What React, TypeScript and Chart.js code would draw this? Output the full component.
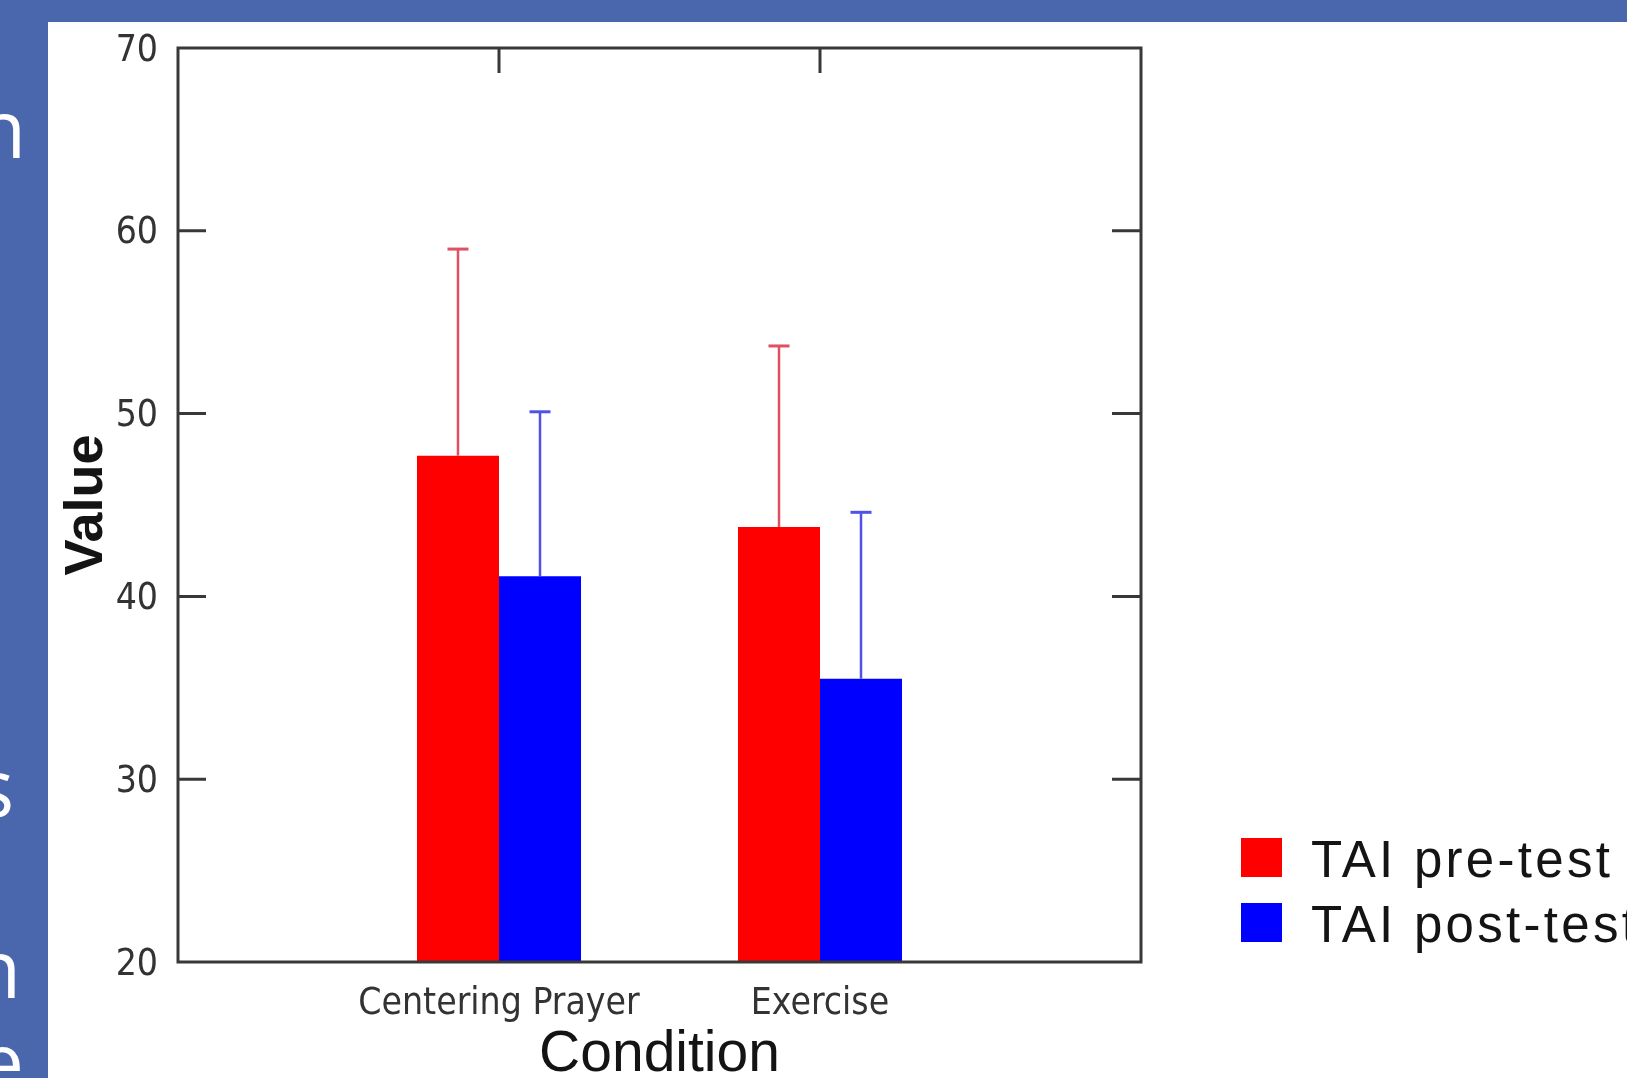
import React, { useEffect, useRef } from 'react';
import { Chart, registerables } from 'chart.js';

Chart.register(...registerables);

// ---- data ----
const categories = ['', 'Centering Prayer', 'Exercise', ''];
const seriesLabels = ['TAI pre-test', 'TAI post-test'];
const preTest = [null, 47.7, 43.8, null];
const postTest = [null, 41.1, 35.5, null];
const preErr = [null, 11.3, 9.9, null];
const postErr = [null, 9.0, 9.1, null];
const yTicks = [20, 30, 40, 50, 60, 70];
const xTitle = 'Condition';
const yTitle = 'Value';
const sideLetters = ['n', 's', 'n', 'e'];

// ---- styles / layout ----
const W = 1627;
const H = 1078;
const BLUE = '#4A67AD';
const FRAME = '#383838';
const TEXT = '#333333';
const RED = '#FF0000';
const BLUE_BAR = '#0000FF';
const ERR_COLORS = ['rgb(222,80,98)', 'rgb(80,80,235)'];
const NARROW = "'Liberation Sans Narrow', 'Arial Narrow', 'DejaVu Sans Condensed', 'Liberation Sans', sans-serif";
const SANS = "'Liberation Sans', Arial, sans-serif";
const letterPos = [
  { x: 26, y: 158 },
  { x: 14, y: 817 },
  { x: 21, y: 998 },
  { x: 24, y: 1091 },
];

const backgroundPlugin = {
  id: 'slideBackground',
  beforeDraw(chart: any) {
    const ctx = chart.ctx;
    ctx.save();
    ctx.fillStyle = BLUE;
    ctx.fillRect(0, 0, W, H);
    ctx.fillStyle = '#ffffff';
    ctx.font = "400 80px 'Open Sans', sans-serif";
    ctx.textAlign = 'right';
    ctx.textBaseline = 'alphabetic';
    sideLetters.forEach((t, i) => {
      ctx.fillText(t, letterPos[i].x, letterPos[i].y);
    });
    ctx.fillStyle = '#ffffff';
    ctx.fillRect(48, 22, W - 48, H - 22);
    ctx.restore();
  },
};

const errorBarPlugin = {
  id: 'errorBars',
  afterDatasetsDraw(chart: any) {
    const ctx = chart.ctx;
    const yScale = chart.scales.y;
    const errs = [preErr, postErr];
    ctx.save();
    chart.data.datasets.forEach((ds: any, di: number) => {
      const meta = chart.getDatasetMeta(di);
      meta.data.forEach((bar: any, i: number) => {
        const v = ds.data[i];
        const e = errs[di][i];
        if (v == null || e == null) return;
        const yTop = yScale.getPixelForValue(v + e);
        ctx.strokeStyle = ERR_COLORS[di];
        ctx.lineWidth = 2.5;
        ctx.beginPath();
        ctx.moveTo(bar.x, bar.y);
        ctx.lineTo(bar.x, yTop);
        ctx.stroke();
        ctx.lineWidth = 3;
        ctx.beginPath();
        ctx.moveTo(bar.x - 10.5, yTop);
        ctx.lineTo(bar.x + 10.5, yTop);
        ctx.stroke();
      });
    });
    ctx.restore();
  },
};

const framePlugin = {
  id: 'frameBox',
  afterDatasetsDraw(chart: any) {
    const ctx = chart.ctx;
    const { left, right, top, bottom } = chart.chartArea;
    const y = chart.scales.y;
    const x = chart.scales.x;
    ctx.save();
    ctx.strokeStyle = FRAME;
    ctx.lineWidth = 3;
    ctx.strokeRect(left, top, right - left, bottom - top);
    ctx.beginPath();
    y.ticks.forEach((t: any) => {
      if (t.value === y.min || t.value === y.max) return;
      const py = y.getPixelForValue(t.value);
      ctx.moveTo(left, py);
      ctx.lineTo(left + 28, py);
      ctx.moveTo(right - 29, py);
      ctx.lineTo(right, py);
    });
    x.ticks.forEach((t: any) => {
      if (!categories[t.value]) return;
      const px = x.getPixelForValue(t.value);
      ctx.moveTo(px, top);
      ctx.lineTo(px, top + 25);
    });
    ctx.stroke();
    ctx.restore();
  },
};

const legendPlugin = {
  id: 'sideLegend',
  afterDraw(chart: any) {
    const ctx = chart.ctx;
    ctx.save();
    chart.data.datasets.forEach((ds: any, i: number) => {
      const top = 838 + i * 65;
      ctx.fillStyle = ds.backgroundColor;
      ctx.fillRect(1241, top, 41, 39);
      ctx.fillStyle = '#141414';
      ctx.font = `400 51px ${SANS}`;
      (ctx as any).letterSpacing = '3.3px';
      ctx.textAlign = 'left';
      ctx.textBaseline = 'alphabetic';
      ctx.fillText(ds.label, 1311, top + 39);
    });
    ctx.restore();
  },
};

export default function App() {
  const canvasRef = useRef<HTMLCanvasElement | null>(null);

  useEffect(() => {
    const canvas = canvasRef.current;
    if (!canvas) return;
    const chart = new Chart(canvas, {
      type: 'bar',
      data: {
        labels: categories,
        datasets: [
          {
            label: seriesLabels[0],
            data: preTest,
            backgroundColor: RED,
            borderWidth: 0,
            categoryPercentage: 0.511,
            barPercentage: 1,
          },
          {
            label: seriesLabels[1],
            data: postTest,
            backgroundColor: BLUE_BAR,
            borderWidth: 0,
            categoryPercentage: 0.511,
            barPercentage: 1,
          },
        ],
      } as any,
      options: {
        responsive: false,
        devicePixelRatio: 1,
        animation: false,
        layout: { padding: { left: 0, top: 48, right: 486, bottom: 0 } },
        plugins: {
          legend: { display: false },
          tooltip: { enabled: false },
        },
        scales: {
          x: {
            type: 'category',
            offset: false,
            grid: { display: false, drawTicks: false },
            border: { display: false },
            ticks: {
              autoSkip: false,
              maxRotation: 0,
              minRotation: 0,
              padding: 20,
              color: TEXT,
              font: { family: NARROW, size: 37 },
            },
            title: {
              display: true,
              text: xTitle,
              color: '#141414',
              padding: 0,
              font: { family: SANS, size: 57, lineHeight: 0.8 },
            },
            afterFit: (s: any) => {
              s.height = 116;
            },
          },
          y: {
            type: 'linear',
            min: yTicks[0],
            max: yTicks[yTicks.length - 1],
            grid: { display: false, drawTicks: false },
            border: { display: false },
            ticks: {
              stepSize: yTicks[1] - yTicks[0],
              padding: 20,
              labelOffset: 3,
              color: TEXT,
              font: { family: NARROW, size: 37 },
            },
            title: {
              display: true,
              text: yTitle,
              color: '#141414',
              padding: { top: 60, bottom: 0 },
              font: { family: SANS, size: 54, weight: 'bold', lineHeight: 1 },
            },
            afterFit: (s: any) => {
              s.width = 178;
            },
          },
        },
      } as any,
      plugins: [backgroundPlugin, errorBarPlugin, framePlugin, legendPlugin],
    });
    return () => chart.destroy();
  }, []);

  return (
    <div style={{ position: 'fixed', left: 0, top: 0, width: W, height: H, overflow: 'hidden' }}>
      <canvas ref={canvasRef} width={W} height={H} style={{ display: 'block', width: W, height: H }} />
    </div>
  );
}
